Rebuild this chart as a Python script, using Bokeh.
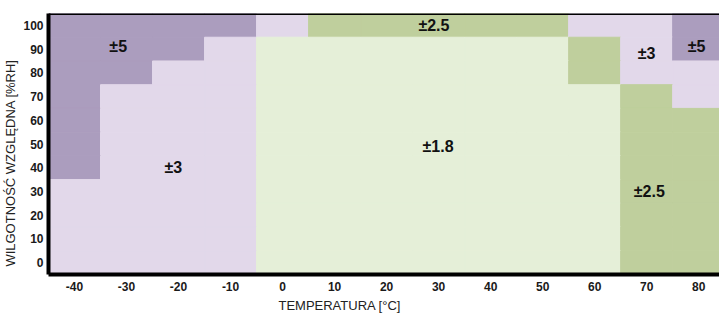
import math
from bokeh.plotting import figure
from bokeh.models import FixedTicker, Span, ColumnDataSource, LinearAxis
from bokeh.embed import file_html
from bokeh.resources import INLINE
from bokeh.core.properties import value

# ---- data ----
temperatures = [-40, -30, -20, -10, 0, 10, 20, 30, 40, 50, 60, 70, 80]
humidity_levels = [100, 90, 80, 70, 60, 50, 40, 30, 20, 10, 0]
# accuracy (±%RH) per cell; rows follow humidity_levels, columns follow temperatures
accuracy_rows = [
    [5, 5, 5, 5, 3, 2.5, 2.5, 2.5, 2.5, 2.5, 3, 3, 5],
    [5, 5, 5, 3, 1.8, 1.8, 1.8, 1.8, 1.8, 1.8, 2.5, 3, 5],
    [5, 5, 3, 3, 1.8, 1.8, 1.8, 1.8, 1.8, 1.8, 2.5, 3, 3],
    [5, 3, 3, 3, 1.8, 1.8, 1.8, 1.8, 1.8, 1.8, 1.8, 2.5, 3],
    [5, 3, 3, 3, 1.8, 1.8, 1.8, 1.8, 1.8, 1.8, 1.8, 2.5, 2.5],
    [5, 3, 3, 3, 1.8, 1.8, 1.8, 1.8, 1.8, 1.8, 1.8, 2.5, 2.5],
    [5, 3, 3, 3, 1.8, 1.8, 1.8, 1.8, 1.8, 1.8, 1.8, 2.5, 2.5],
    [3, 3, 3, 3, 1.8, 1.8, 1.8, 1.8, 1.8, 1.8, 1.8, 2.5, 2.5],
    [3, 3, 3, 3, 1.8, 1.8, 1.8, 1.8, 1.8, 1.8, 1.8, 2.5, 2.5],
    [3, 3, 3, 3, 1.8, 1.8, 1.8, 1.8, 1.8, 1.8, 1.8, 2.5, 2.5],
    [3, 3, 3, 3, 1.8, 1.8, 1.8, 1.8, 1.8, 1.8, 1.8, 2.5, 2.5],
]
zone_texts = ["±5", "±3", "±2.5", "±1.8", "±3", "±5", "±2.5"]
zone_temp = [-31.6, -21.0, 29.1, 29.9, 70.0, 79.6, 70.5]
zone_hum = [91.0, 40.0, 100.0, 49.0, 88.0, 91.0, 30.0]

x_ticks = temperatures
x_tick_labels = ["-40", "-30", "-20", "-10", "0", "10", "20", "30", "40", "50", "60", "70", "80"]
y_ticks = [0, 10, 20, 30, 40, 50, 60, 70, 80, 90, 100]
x_title = "TEMPERATURA [°C]"
y_title = "WILGOTNOŚĆ WZGLĘDNA [%RH]"

# ---- styles ----
palette = {5: "#ab9dbe", 3: "#e2d8ea", 2.5: "#bfcf9d", 1.8: "#e5efd8"}
X_TITLE_AT = 11   # data position along the axis where the title is centred
Y_TITLE_AT = 42

cx, cy, cc = [], [], []
for h, row in zip(humidity_levels, accuracy_rows):
    for t, a in zip(temperatures, row):
        cx.append(t)
        cy.append(h)
        cc.append(palette[a])
cells = ColumnDataSource(dict(t=cx, h=cy, c=cc))

p = figure(width=719, height=315, output_backend="svg", toolbar_location=None,
           x_range=(-45, 84), y_range=(-5, 105),
           min_border_left=47, min_border_right=0, min_border_top=13, min_border_bottom=41)
p.outline_line_color = None
p.xgrid.visible = False
p.ygrid.visible = False
p.background_fill_color = "white"

p.rect(x="t", y="h", width=10, height=10, source=cells,
       fill_color="c", line_color="c", line_width=1)

labels = ColumnDataSource(dict(x=zone_temp, y=zone_hum, txt=zone_texts))
p.text(x="x", y="y", text="txt", source=labels, text_align="center",
       text_baseline="middle", text_font=value("Liberation Sans"),
       text_font_size="16px", text_font_style="bold", text_color="#111111")

for ax in (p.xaxis, p.yaxis):
    ax.axis_line_width = 4
    ax.axis_line_color = "black"
    ax.major_tick_line_color = None
    ax.minor_tick_line_color = None
    ax.major_tick_out = 0
    ax.major_tick_in = 0
    ax.minor_tick_out = 0
    ax.minor_tick_in = 0
    ax.major_label_text_font = "Liberation Sans"
    ax.major_label_text_font_size = "12px"
    ax.major_label_text_font_style = "bold"
    ax.major_label_text_color = "#1a1a1a"
p.xaxis.ticker = FixedTicker(ticks=x_ticks)
p.xaxis.major_label_overrides = dict(zip(x_ticks, x_tick_labels))
p.yaxis.ticker = FixedTicker(ticks=y_ticks)
p.xaxis.major_label_standoff = 7
p.yaxis.major_label_standoff = 5

# axis titles, placed as single labels on extra axes
xt = LinearAxis(ticker=FixedTicker(ticks=[X_TITLE_AT]),
                major_label_overrides={X_TITLE_AT: x_title})
yt = LinearAxis(ticker=FixedTicker(ticks=[Y_TITLE_AT]),
                major_label_overrides={Y_TITLE_AT: y_title},
                major_label_orientation="vertical")
for ax in (xt, yt):
    ax.axis_line_color = None
    ax.major_tick_line_color = None
    ax.minor_tick_line_color = None
    ax.major_tick_out = 0
    ax.major_tick_in = 0
    ax.minor_tick_out = 0
    ax.minor_tick_in = 0
    ax.major_label_text_font = "Liberation Sans"
    ax.major_label_text_font_size = "13px"
    ax.major_label_text_color = "#222222"
xt.major_label_standoff = 4
yt.major_label_standoff = 2
p.add_layout(xt, "below")
p.add_layout(yt, "left")

p.add_layout(Span(location=105, dimension="width", line_color="black", line_width=3))

open("out.html", "w").write(file_html(p, INLINE))
